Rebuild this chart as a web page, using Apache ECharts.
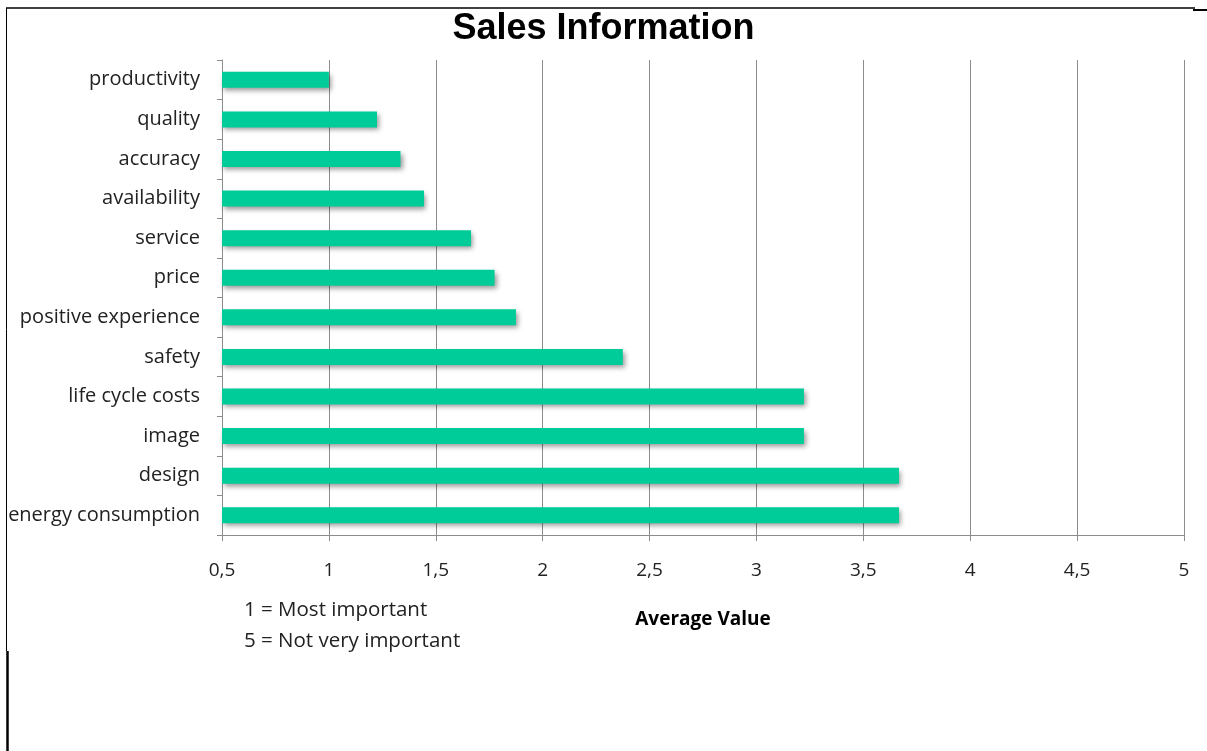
<!DOCTYPE html>
<html>
<head>
<meta charset="utf-8">
<script src="https://cdn.jsdelivr.net/npm/echarts@6/dist/echarts.min.js"></script>
<style>
  body, html { margin: 0; padding: 0; width: 100%; height: 100%; overflow: hidden; background: #fff; }
  #chart { width: 1207px; height: 751px; }
</style>
</head>
<body>
<div id="chart"></div>
<script>
  // top to bottom as shown
  var categories = ['productivity', 'quality', 'accuracy', 'availability', 'service', 'price',
    'positive experience', 'safety', 'life cycle costs', 'image', 'design', 'energy consumption'];
  var averageValues = [1.0, 1.225, 1.335, 1.445, 1.665, 1.775, 1.875, 2.375, 3.222, 3.222, 3.667, 3.667];
  var noteLines = ['1 = Most important', '5 = Not very important'];

  var font = '"Open Sans", "Liberation Sans", sans-serif';
  var titleFont = '"Liberation Sans", Arial, sans-serif';
  var myChart = echarts.init(document.getElementById('chart'));
  myChart.setOption({
    backgroundColor: '#fff',
    animation: false,
    title: {
      text: 'Sales Information',
      left: 'center',
      top: 6,
      textStyle: { fontFamily: titleFont, fontSize: 36, fontWeight: 'bold', color: '#000' }
    },
    grid: { left: 222, right: 23, top: 60, bottom: 216 },
    xAxis: {
      type: 'value',
      min: 0.5,
      max: 5,
      interval: 0.5,
      name: 'Average Value',
      nameLocation: 'middle',
      nameGap: 75,
      nameTextStyle: { fontFamily: font, fontSize: 19, fontWeight: 'bold', color: '#000' },
      axisLine: { show: true, lineStyle: { color: '#8c8c8c', width: 1 } },
      axisTick: { show: true, length: 6, lineStyle: { color: '#8c8c8c' } },
      axisLabel: {
        fontFamily: font, fontSize: 19, color: '#222', margin: 26,
        formatter: function (v) { return String(v).replace('.', ','); }
      },
      splitLine: { show: true, lineStyle: { color: '#8c8c8c', width: 1 } }
    },
    yAxis: {
      type: 'category',
      data: categories,
      inverse: true,
      axisLine: { show: true, lineStyle: { color: '#8c8c8c', width: 1 } },
      axisTick: { show: true, length: 5, lineStyle: { color: '#8c8c8c' } },
      axisLabel: { fontFamily: font, fontSize: 20, color: '#222', margin: 22 }
    },
    series: [{
      type: 'bar',
      data: averageValues,
      barWidth: 16,
      itemStyle: {
        color: '#00cc99',
        shadowColor: 'rgba(0,0,0,0.4)',
        shadowBlur: 5,
        shadowOffsetX: 2,
        shadowOffsetY: 3
      }
    }],
    graphic: [
      { type: 'line', shape: { x1: 6, y1: 8, x2: 1195, y2: 8 }, style: { stroke: '#000', lineWidth: 1.5 } },
      { type: 'line', shape: { x1: 1193, y1: 10, x2: 1207, y2: 10 }, style: { stroke: '#000', lineWidth: 2 } },
      { type: 'line', shape: { x1: 6.5, y1: 8, x2: 6.5, y2: 651 }, style: { stroke: '#000', lineWidth: 1 } },
      { type: 'line', shape: { x1: 7.5, y1: 651, x2: 7.5, y2: 751 }, style: { stroke: '#000', lineWidth: 2.5 } },
      {
        type: 'text', left: 244, top: 595,
        style: { text: noteLines.join('\n'), font: '20.5px ' + font, fill: '#222', lineHeight: 31 }
      }
    ]
  });
</script>
</body>
</html>
